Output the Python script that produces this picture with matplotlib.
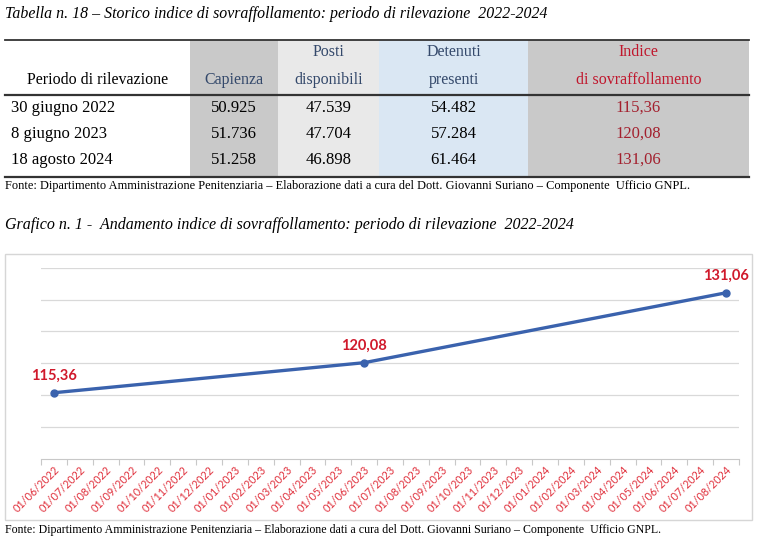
import matplotlib
matplotlib.use('Agg')
import matplotlib.pyplot as plt
from matplotlib.patches import Rectangle

# table data
periodi = ['30 giugno 2022', '8 giugno 2023', '18 agosto 2024']
capienza = ['50.925', '51.736', '51.258']
posti = ['47.539', '47.704', '46.898']
detenuti = ['54.482', '57.284', '61.464']
indice = [115.36, 120.08, 131.06]

# chart data
mesi = ['01/06/2022', '01/07/2022', '01/08/2022', '01/09/2022', '01/10/2022',
        '01/11/2022', '01/12/2022', '01/01/2023', '01/02/2023', '01/03/2023',
        '01/04/2023', '01/05/2023', '01/06/2023', '01/07/2023', '01/08/2023',
        '01/09/2023', '01/10/2023', '01/11/2023', '01/12/2023', '01/01/2024',
        '01/02/2024', '01/03/2024', '01/04/2024', '01/05/2024', '01/06/2024',
        '01/07/2024', '01/08/2024']
mesi_punti = ['01/06/2022', '01/06/2023', '01/08/2024']

W, H = 767, 547
SERIF = 'Liberation Serif'
fig = plt.figure(figsize=(W / 100, H / 100), dpi=100)
fig.patch.set_facecolor('white')

# page axes in pixel coordinates (y down)
pg = fig.add_axes([0, 0, 1, 1])
pg.set_xlim(0, W)
pg.set_ylim(H, 0)
pg.axis('off')


def fmt(v):
    return f'{v:.2f}'.replace('.', ',')


pg.text(5, 14, 'Tabella n. 18 – Storico indice di sovraffollamento: periodo di rilevazione  2022-2024',
        family=SERIF, style='italic', fontsize=11.4, va='center', ha='left')

# column shading
cols = [(5, 190, None), (190, 278, '#c9c9c9'), (278, 379, '#e9e9e9'),
        (379, 528, '#dae7f3'), (528, 749, '#c9c9c9')]
for x0, x1, c in cols:
    if c:
        pg.add_patch(Rectangle((x0, 40), x1 - x0, 137, facecolor=c, edgecolor='none'))

pg.plot([5, 749], [40, 40], color='#333333', lw=1.3)
pg.plot([5, 749], [95, 95], color='#333333', lw=1.6)
pg.plot([5, 749], [177, 177], color='#333333', lw=1.6)

hdr_blue = '#34496b'
red = '#c0172d'
fs = 11.5
cx = [(x0 + x1) / 2 for x0, x1, _ in cols]
pg.text(cx[0], 80, 'Periodo di rilevazione', family=SERIF, fontsize=fs, ha='center', va='center')
pg.text(cx[1], 80, 'Capienza', family=SERIF, fontsize=fs, ha='center', va='center', color=hdr_blue)
pg.text(cx[2], 52, 'Posti', family=SERIF, fontsize=fs, ha='center', va='center', color=hdr_blue)
pg.text(cx[2], 80, 'disponibili', family=SERIF, fontsize=fs, ha='center', va='center', color=hdr_blue)
pg.text(cx[3], 52, 'Detenuti', family=SERIF, fontsize=fs, ha='center', va='center', color=hdr_blue)
pg.text(cx[3], 80, 'presenti', family=SERIF, fontsize=fs, ha='center', va='center', color=hdr_blue)
pg.text(cx[4], 52, 'Indice', family=SERIF, fontsize=fs, ha='center', va='center', color=red)
pg.text(cx[4], 80, 'di sovraffollamento', family=SERIF, fontsize=fs, ha='center', va='center', color=red)

row_y = [108, 134, 160]
for i, y in enumerate(row_y):
    pg.text(11, y, periodi[i], family=SERIF, fontsize=fs + 0.5, ha='left', va='center')
    pg.text(cx[1], y, capienza[i], family=SERIF, fontsize=fs + 0.5, ha='center', va='center')
    pg.text(cx[2], y, posti[i], family=SERIF, fontsize=fs + 0.5, ha='center', va='center')
    pg.text(cx[3], y, detenuti[i], family=SERIF, fontsize=fs + 0.5, ha='center', va='center')
    pg.text(cx[4], y, fmt(indice[i]), family=SERIF, fontsize=fs + 0.5, ha='center', va='center',
            color='#a3202e')

fonte = ('Fonte: Dipartimento Amministrazione Penitenziaria – Elaborazione dati a cura del '
         'Dott. Giovanni Suriano – Componente  Ufficio GNPL.')
pg.text(5, 186, fonte, family=SERIF, fontsize=8.9, ha='left', va='center')

pg.text(5, 225, 'Grafico n. 1 -  Andamento indice di sovraffollamento: periodo di rilevazione  2022-2024',
        family=SERIF, style='italic', fontsize=11.5, va='center', ha='left')

# chart frame
pg.add_patch(Rectangle((5, 254), 747, 266, facecolor='white', edgecolor='#d6d6d6', lw=1))
pg.text(5, 530, fonte, family=SERIF, fontsize=8.6, ha='left', va='center')

# line chart
px0, px1, py0, py1 = 41, 739, 267.7, 458.7
ax = fig.add_axes([px0 / W, (H - py1) / H, (px1 - px0) / W, (py1 - py0) / H])
ax.set_facecolor('none')
xs = [mesi.index(m) + 0.5 for m in mesi_punti]
ax.plot(xs, indice, color='#3a62ad', lw=2.4, marker='o', ms=5, zorder=3, clip_on=False)
for x, v in zip(xs, indice):
    ax.annotate(fmt(v), (x, v), xytext=(0, 12), textcoords='offset points', ha='center',
                va='center', color='#d0192b', fontsize=10.5, fontweight='bold', family='Lato')

ax.set_xlim(0, len(mesi))
ax.set_ylim(105, 135)
ax.set_yticks([110, 115, 120, 125, 130, 135])
ax.yaxis.grid(True, color='#d9d9d9', lw=0.9)
ax.set_axisbelow(True)
ax.tick_params(axis='y', length=0, labelleft=False)
for s in ['top', 'right', 'left']:
    ax.spines[s].set_visible(False)
ax.spines['bottom'].set_color('#c8c8c8')

ax.set_xticks(range(len(mesi) + 1))
ax.set_xticklabels([])
ax.tick_params(axis='x', which='major', length=4, color='#c8c8c8', direction='out')
ax.set_xticks([i + 0.5 for i in range(len(mesi))], minor=True)
ax.set_xticklabels(mesi, minor=True, rotation=45, ha='right', rotation_mode='anchor',
                   color='#e0303c', fontsize=7.8, family='Lato')
ax.tick_params(axis='x', which='minor', length=0, pad=4)

fig.savefig('out.png', dpi=100)
